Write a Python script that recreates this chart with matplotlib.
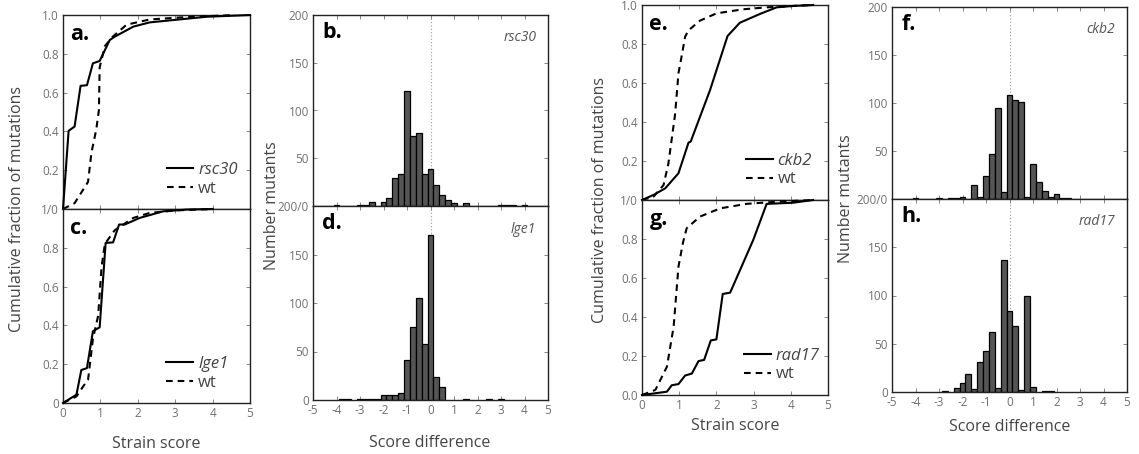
import numpy as np
import matplotlib
matplotlib.use("Agg")
import matplotlib.pyplot as plt

plt.rcParams['font.family'] = ['Open Sans', 'DejaVu Sans']

# ---------------- data ----------------
# cumulative distributions (strain score, cumulative fraction)
rsc30_x = [0, 0.15, 0.31, 0.47, 0.64, 0.80, 0.98, 1.25, 1.38, 1.88, 2.32, 2.95, 3.84, 5.0]
rsc30_y = [0, 0.403, 0.425, 0.635, 0.638, 0.751, 0.763, 0.871, 0.888, 0.94, 0.962, 0.974, 0.991, 1.0]
wt_a_x = [0, 0.31, 0.54, 0.67, 0.76, 0.89, 0.96, 0.98, 1.12, 1.34, 1.70, 2.32, 3.2, 4.0, 4.6]
wt_a_y = [0, 0.03, 0.10, 0.14, 0.29, 0.41, 0.51, 0.73, 0.84, 0.89, 0.95, 0.977, 0.988, 0.995, 1.0]

lge1_x = [0, 0.36, 0.49, 0.64, 0.80, 0.98, 1.14, 1.34, 1.50, 1.65, 2.05, 2.68, 3.3, 4.0]
lge1_y = [0, 0.043, 0.17, 0.18, 0.37, 0.39, 0.825, 0.828, 0.92, 0.92, 0.954, 0.988, 0.997, 1.0]
wt_c_x = [0, 0.36, 0.54, 0.67, 0.80, 0.94, 1.03, 1.12, 1.38, 1.88, 2.32, 3.04, 4.0]
wt_c_y = [0, 0.034, 0.086, 0.12, 0.33, 0.45, 0.70, 0.82, 0.89, 0.954, 0.98, 0.993, 1.0]

ckb2_x = [0, 0.31, 0.625, 0.98, 1.25, 1.31, 1.83, 2.30, 2.63, 3.17, 3.62, 4.06, 4.6]
ckb2_y = [0, 0.026, 0.06, 0.137, 0.294, 0.30, 0.564, 0.841, 0.909, 0.954, 0.988, 0.995, 1.0]
wt_e_x = [0, 0.31, 0.58, 0.71, 0.89, 0.98, 1.03, 1.16, 1.25, 1.56, 2.0, 2.72, 3.35, 4.06, 4.6]
wt_e_y = [0, 0.017, 0.077, 0.188, 0.44, 0.65, 0.70, 0.838, 0.87, 0.92, 0.957, 0.978, 0.988, 0.995, 1.0]

rad17_x = [0, 0.36, 0.67, 0.80, 0.98, 1.16, 1.34, 1.52, 1.67, 1.85, 2.0, 2.17, 2.37, 2.99, 3.35, 4.06, 4.6]
rad17_y = [0, 0.009, 0.017, 0.05, 0.056, 0.10, 0.11, 0.174, 0.18, 0.28, 0.285, 0.518, 0.525, 0.795, 0.98, 0.986, 1.0]
wt_g_x = [0, 0.36, 0.67, 0.85, 0.98, 1.10, 1.20, 1.56, 2.10, 2.80, 3.6, 4.6]
wt_g_y = [0, 0.026, 0.145, 0.35, 0.658, 0.78, 0.855, 0.915, 0.957, 0.98, 0.991, 1.0]

# histograms of score difference (bin centres -4 ... 4, step 0.25)
bin_centers = [-4, -3.75, -3.5, -3.25, -3, -2.75, -2.5, -2.25, -2, -1.75,
               -1.5, -1.25, -1, -0.75, -0.5, -0.25, 0, 0.25, 0.5, 0.75,
               1, 1.25, 1.5, 1.75, 2, 2.25, 2.5, 2.75, 3, 3.25,
               3.5, 3.75, 4]
rsc30_counts = [1, 0, 0, 0, 1, 1, 4, 0, 4, 8,
                29, 34, 120, 73, 76, 33, 39, 22, 12, 6,
                3, 0, 3, 0, 0, 0, 0, 0, 1, 1,
                1, 0, 1]
lge1_counts = [0, 1, 1, 0, 1, 1, 1, 1, 5, 5,
               5, 7, 41, 75, 105, 58, 170, 24, 13, 0,
               0, 0, 1, 0, 0, 0, 1, 0, 1, 0,
               0, 0, 0]
ckb2_counts = [1, 0, 0, 0, 1, 0, 1, 1, 2, 0,
               15, 2, 24, 47, 95, 7, 108, 103, 101, 2,
               36, 18, 8, 2, 5, 1, 1, 0, 0, 0,
               0, 0, 0]
rad17_counts = [0, 0, 0, 0, 0, 1, 0, 4, 9, 19,
                3, 31, 42, 62, 4, 137, 84, 68, 2, 99,
                5, 0, 1, 1, 0, 0, 0, 0, 0, 0,
                0, 0, 0]

cdf_xticks = [0, 1, 2, 3, 4, 5]
cdf_yticks = [0, 0.2, 0.4, 0.6, 0.8, 1.0]
cdf_top_labels = ['1/0', '0.2', '0.4', '0.6', '0.8', '1.0']
cdf_bot_labels_left = ['0', '0.2', '0.4', '0.6', '0.8', '']
cdf_bot_labels_right = ['0.0', '0.2', '0.4', '0.6', '0.8', '']
hist_xticks = [-5, -4, -3, -2, -1, 0, 1, 2, 3, 4, 5]
hist_xlabels = ['-5', '-4', '-3', '-2', '-1', '0', '1', '2', '3', '4', '5']
hist_yticks = [0, 50, 100, 150, 200]
hist_top_labels = ['200/0', '50', '100', '150', '200']
hist_bot_labels = ['0', '50', '100', '150', '']

# ---------------- layout ----------------
W, H = 1139, 454
fig = plt.figure(figsize=(W / 100, H / 100), dpi=100)


def rect(l, t, r, b):
    return [l / W, 1 - b / H, (r - l) / W, (b - t) / H]


TICK_C = '#707070'
LABEL_C = '#444444'
SPINE_C = '#222222'


def style(ax):
    for s in ax.spines.values():
        s.set_color(SPINE_C)
        s.set_linewidth(1.0)
    ax.tick_params(direction='in', length=3, width=0.7, colors='#888888',
                   labelcolor=TICK_C, labelsize=8.5, top=True, right=True, pad=3)


def cdf_panel(box, mx, my, wx, wy, name, top, ylabels, letter, legend_anchor):
    ax = fig.add_axes(rect(*box))
    style(ax)
    ax.plot(mx, my, color='black', lw=1.5, clip_on=False, zorder=3, label=name)
    ax.plot(wx, wy, color='black', lw=1.5, dashes=(3.2, 2.4), clip_on=False, zorder=3,
            label='wt')
    ax.set_xlim(0, 5)
    ax.set_ylim(0, 1)
    ax.set_xticks(cdf_xticks)
    ax.set_yticks(cdf_yticks)
    ax.set_yticklabels(ylabels)
    if top:
        ax.set_xticklabels([])
    else:
        ax.set_xticklabels([str(t) for t in cdf_xticks])
    ax.text(0.04, 0.955, letter, transform=ax.transAxes, fontsize=15.5,
            fontweight='bold', color='black', va='top', ha='left')
    leg = ax.legend(loc='lower right', bbox_to_anchor=legend_anchor, frameon=False,
                    fontsize=12, handlelength=1.6, handletextpad=0.3,
                    labelspacing=0.15, borderaxespad=0)
    for t in leg.get_texts():
        t.set_color(LABEL_C)
    leg.get_texts()[0].set_style('italic')
    return ax


def hist_panel(box, counts, name, top, ylabels, letter):
    ax = fig.add_axes(rect(*box))
    style(ax)
    c = np.array(bin_centers)
    v = np.array(counts)
    m = v > 0
    ax.axvline(0, color='#9a9a9a', lw=0.8, ls=(0, (1, 2)), zorder=0)
    ax.bar(c[m], v[m], width=0.25, color='#555555', edgecolor='black',
           linewidth=0.9, zorder=2)
    ax.set_xlim(-5, 5)
    ax.set_ylim(0, 200)
    ax.set_xticks(hist_xticks)
    ax.set_yticks(hist_yticks)
    ax.set_yticklabels(ylabels)
    if top:
        ax.set_xticklabels([])
    else:
        ax.set_xticklabels(hist_xlabels)
    ax.text(0.04, 0.965, letter, transform=ax.transAxes, fontsize=15.5,
            fontweight='bold', color='black', va='top', ha='left')
    ax.text(0.95, 0.92, name, transform=ax.transAxes, fontsize=10,
            style='italic', color='#555555', va='top', ha='right')
    return ax


cdf_panel((63, 15, 250, 209), rsc30_x, rsc30_y, wt_a_x, wt_a_y, 'rsc30', True,
          cdf_top_labels, 'a.', (0.97, 0.03))
cdf_panel((63, 209, 250, 403), lge1_x, lge1_y, wt_c_x, wt_c_y, 'lge1', False,
          cdf_bot_labels_left, 'c.', (0.92, 0.03))
hist_panel((313, 15, 548, 206), rsc30_counts, 'rsc30', True, hist_top_labels, 'b.')
hist_panel((313, 206, 548, 400), lge1_counts, 'lge1', False, hist_bot_labels, 'd.')

cdf_panel((642, 5, 828, 200), ckb2_x, ckb2_y, wt_e_x, wt_e_y, 'ckb2', True,
          cdf_top_labels, 'e.', (0.95, 0.03))
cdf_panel((642, 200, 828, 395), rad17_x, rad17_y, wt_g_x, wt_g_y, 'rad17', False,
          cdf_bot_labels_right, 'g.', (0.99, 0.03))
hist_panel((892, 7, 1127, 199), ckb2_counts, 'ckb2', True, hist_top_labels, 'f.')
hist_panel((892, 199, 1127, 392), rad17_counts, 'rad17', False, hist_bot_labels, 'h.')

# axis titles
def ftext(x, y, s, **kw):
    fig.text(x / W, 1 - y / H, s, color=LABEL_C, fontsize=11.5, ha='center',
             va='center', **kw)


ftext(17, 209, 'Cumulative fraction of mutations', rotation=90)
ftext(272, 206, 'Number mutants', rotation=90)
ftext(600, 200, 'Cumulative fraction of mutations', rotation=90)
ftext(846, 199, 'Number mutants', rotation=90)
ftext(156, 444, 'Strain score')
ftext(430, 443, 'Score difference')
ftext(735, 426, 'Strain score')
ftext(1010, 427, 'Score difference')

fig.savefig('out.png', dpi=100)
